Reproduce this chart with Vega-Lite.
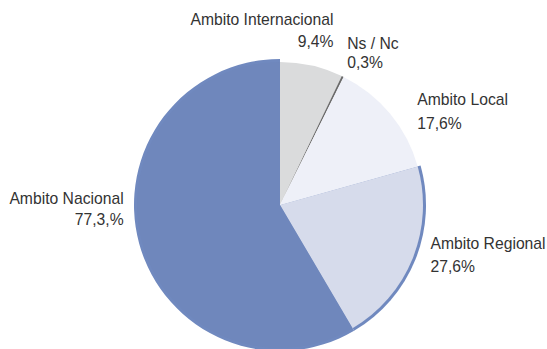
{
  "$schema": "https://vega.github.io/schema/vega-lite/v6.json",
  "width": 288,
  "height": 288,
  "autosize": "none",
  "padding": {"left": 136, "top": 61, "right": 123, "bottom": 0},
  "background": "white",
  "config": {"view": {"stroke": null}, "font": "Liberation Sans"},
  "data": {"values": [
    {"cat": "Ambito Internacional", "value": 9.4, "label": "Ambito Internacional\n9,4%", "ord": 1},
    {"cat": "Ns / Nc", "value": 0.3, "label": "Ns / Nc\n0,3%", "ord": 2},
    {"cat": "Ambito Local", "value": 17.6, "label": "Ambito Local\n17,6%", "ord": 3},
    {"cat": "Ambito Regional", "value": 27.6, "label": "Ambito Regional\n27,6%", "ord": 4},
    {"cat": "Ambito Nacional", "value": 77.3, "label": "Ambito Nacional\n77,3,%", "ord": 5}
  ]},
  "encoding": {
    "theta": {"field": "value", "type": "quantitative", "stack": true},
    "order": {"field": "ord", "type": "quantitative"}
  },
  "layer": [
    {
      "mark": {"type": "arc", "outerRadius": 146, "color": "#7089bf"},
      "encoding": {"opacity": {"condition": {"test": "datum.ord >= 4", "value": 1}, "value": 0}}
    },
    {
      "mark": {"type": "arc", "outerRadius": 143},
      "encoding": {
        "color": {
          "field": "cat", "type": "nominal", "legend": null,
          "scale": {
            "domain": ["Ambito Internacional", "Ns / Nc", "Ambito Local", "Ambito Regional", "Ambito Nacional"],
            "range": ["#dadbdc", "#6a6a6a", "#eef0f8", "#d6dbeb", "#6f87bc"]
          }
        }
      }
    },
    {
      "mark": {"type": "text", "radius": 160, "align": "right", "baseline": "alphabetic", "dx": 18, "dy": -24, "fontSize": 15.7, "lineBreak": "\n", "lineHeight": 22, "color": "#333333"},
      "encoding": {"text": {"condition": {"test": "datum.ord == 1", "field": "label"}, "value": ""}}
    },
    {
      "mark": {"type": "text", "radius": 160, "align": "left", "baseline": "alphabetic", "dx": -3, "dy": -12, "fontSize": 15.7, "lineBreak": "\n", "lineHeight": 19, "color": "#333333"},
      "encoding": {"text": {"condition": {"test": "datum.ord == 2", "field": "label"}, "value": ""}}
    },
    {
      "mark": {"type": "text", "radius": 160, "align": "left", "baseline": "alphabetic", "dx": 14, "dy": 2, "fontSize": 15.7, "lineBreak": "\n", "lineHeight": 24, "color": "#333333"},
      "encoding": {"text": {"condition": {"test": "datum.ord == 3", "field": "label"}, "value": ""}}
    },
    {
      "mark": {"type": "text", "radius": 160, "align": "left", "baseline": "alphabetic", "dx": 2, "dy": -16, "fontSize": 15.7, "lineBreak": "\n", "lineHeight": 23, "color": "#333333"},
      "encoding": {"text": {"condition": {"test": "datum.ord == 4", "field": "label"}, "value": ""}}
    },
    {
      "mark": {"type": "text", "radius": 160, "align": "right", "baseline": "alphabetic", "dx": -2, "dy": -43, "fontSize": 15.7, "lineBreak": "\n", "lineHeight": 21, "color": "#333333"},
      "encoding": {"text": {"condition": {"test": "datum.ord == 5", "field": "label"}, "value": ""}}
    }
  ]
}
